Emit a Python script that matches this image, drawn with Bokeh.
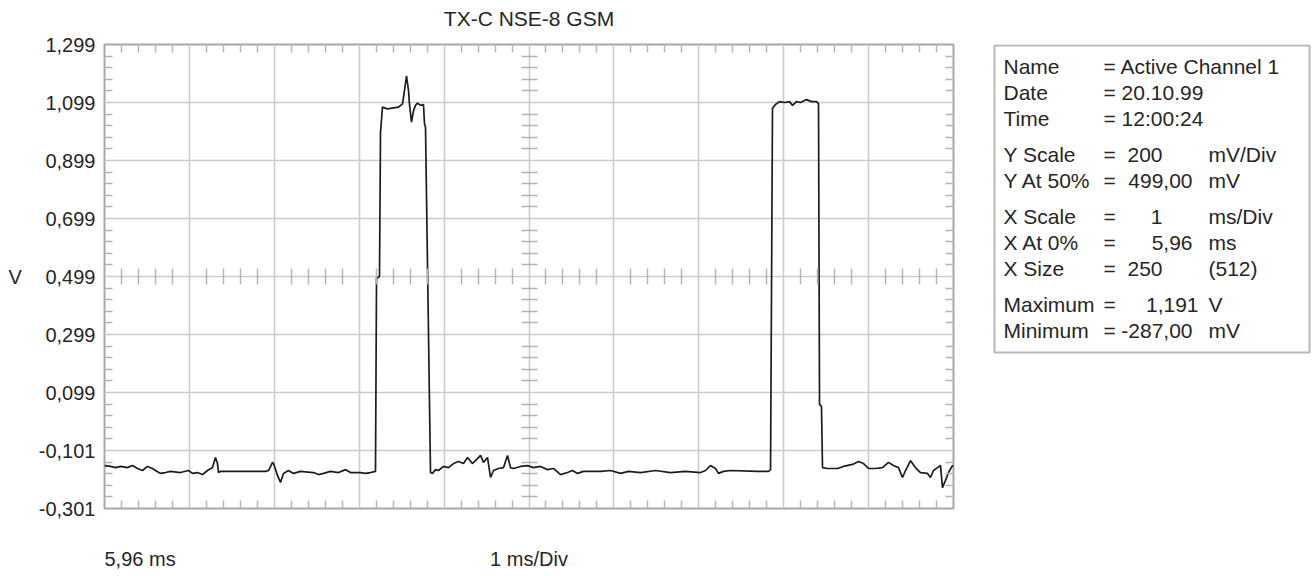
from bokeh.plotting import figure
from bokeh.models import (Range1d, LinearAxis, FixedTicker, Grid,
                          CustomJSTickFormatter, ColumnDataSource)
from bokeh.layouts import row, column
from bokeh.core.properties import value
from bokeh.embed import file_html
from bokeh.resources import INLINE

# ---------------- data ----------------
title_text = "TX-C NSE-8 GSM"
y_ticks = [-0.301, -0.101, 0.099, 0.299, 0.499, 0.699, 0.899, 1.099, 1.299]
y_tick_labels = ["-0,301", "-0,101", "0,099", "0,299", "0,499",
                 "0,699", "0,899", "1,099", "1,299"]
x_start_ms = 5.96
x_div_ms = 1.0
n_x_div = 10
x_start_label = "5,96 ms"
x_scale_label = "1 ms/Div"
y_unit_label = "V"

time_ms = [
    5.960, 6.031, 6.090, 6.148, 6.231, 6.290, 6.349, 6.408, 6.466, 6.525,
    6.561, 6.620, 6.678, 6.737, 6.855, 6.949, 6.997, 7.055, 7.114, 7.173,
    7.232, 7.267, 7.291, 7.303, 7.326, 7.856, 7.892, 7.939, 7.951, 7.998,
    8.033, 8.068, 8.127, 8.186, 8.269, 8.422, 8.481, 8.540, 8.622, 8.716,
    8.799, 8.858, 8.975, 9.034, 9.093, 9.152,
    9.164, 9.199, 9.211, 9.234, 9.293, 9.423, 9.470, 9.482, 9.517, 9.541,
    9.552, 9.576, 9.600, 9.623, 9.647, 9.682, 9.717, 9.729, 9.741, 9.800,
    9.823, 9.859, 9.894, 9.953, 10.012, 10.071, 10.130, 10.188, 10.236, 10.294,
    10.353, 10.389, 10.424, 10.471, 10.507, 10.542, 10.601, 10.660, 10.707, 10.742,
    10.777, 10.860, 10.942, 11.013, 11.095, 11.178, 11.249, 11.331, 11.413, 11.472,
    11.531, 11.602, 11.802, 11.920, 12.038, 12.132, 12.273, 12.450, 12.627, 12.803,
    12.980, 13.039, 13.098, 13.157, 13.192, 13.251, 13.333, 13.651, 13.781, 13.805,
    13.828, 13.863, 13.911, 13.969, 14.028, 14.064, 14.111, 14.158, 14.229, 14.287,
    14.346, 14.370, 14.382, 14.405, 14.417,
    14.476, 14.594, 14.664, 14.770, 14.841, 14.900, 14.959, 15.041, 15.124, 15.194,
    15.253, 15.312, 15.359, 15.395, 15.454, 15.512, 15.571, 15.654, 15.689, 15.724,
    15.771, 15.807, 15.830, 15.866, 15.901, 15.948, 15.960,
]
volts = [
    -0.153, -0.156, -0.160, -0.156, -0.160, -0.153, -0.163, -0.170, -0.156, -0.163,
    -0.170, -0.180, -0.177, -0.173, -0.177, -0.170, -0.180, -0.177, -0.184, -0.170,
    -0.160, -0.125, -0.146, -0.177, -0.173, -0.173, -0.170, -0.142, -0.146, -0.187,
    -0.211, -0.180, -0.170, -0.180, -0.173, -0.177, -0.184, -0.180, -0.173, -0.177,
    -0.167, -0.177, -0.177, -0.180, -0.177, -0.173,
    0.492, 0.499, 0.996, 1.083, 1.077, 1.083, 1.094, 1.117, 1.191, 1.140,
    1.094, 1.031, 1.071, 1.089, 1.097, 1.089, 1.092, 1.026, 1.014, -0.177,
    -0.180, -0.167, -0.170, -0.156, -0.160, -0.146, -0.139, -0.146, -0.125, -0.146,
    -0.129, -0.118, -0.142, -0.125, -0.194, -0.170, -0.163, -0.160, -0.118, -0.160,
    -0.163, -0.156, -0.153, -0.160, -0.156, -0.167, -0.163, -0.184, -0.177, -0.170,
    -0.180, -0.173, -0.173, -0.170, -0.180, -0.173, -0.177, -0.170, -0.177, -0.173,
    -0.177, -0.170, -0.153, -0.163, -0.180, -0.173, -0.170, -0.173, -0.173, -0.167,
    1.078, 1.092, 1.102, 1.099, 1.102, 1.089, 1.102, 1.099, 1.109, 1.102,
    1.102, 1.095, 0.058, 0.051, -0.160,
    -0.163, -0.163, -0.156, -0.149, -0.139, -0.146, -0.163, -0.163, -0.160, -0.142,
    -0.153, -0.160, -0.194, -0.170, -0.136, -0.160, -0.177, -0.180, -0.194, -0.170,
    -0.160, -0.153, -0.229, -0.204, -0.177, -0.153, -0.156,
]

info_labels = ["Name", "Date", "Time", "Y Scale", "Y At 50%", "X Scale",
               "X At 0%", "X Size", "Maximum", "Minimum"]
info_values = ["= Active Channel 1", "= 20.10.99", "= 12:00:24", "200", "499,00",
               "1", "5,96", "250", "1,191", "-287,00"]
info_units = ["", "", "", "mV/Div", "mV", "ms/Div", "ms", "(512)", "V", "mV"]

# ---------------- styles / layout ----------------
FONT_NAME = "Liberation Sans"
FONT = value(FONT_NAME)
TXT = "#262626"
GRID = "#cccccc"
TICK = "#b4b4b4"

LEFT_W = 970          # width of the chart column
TOP_H = 30            # title strip
MAIN_H = 502          # chart
BOT_H = 44            # bottom caption strip
FRAME_L, FRAME_R = 104, 17
FRAME_T, FRAME_B = 14, 24

x_end_ms = x_start_ms + n_x_div * x_div_ms
x_major = [x_start_ms + i * x_div_ms for i in range(n_x_div + 1)]
x_minor = [x_start_ms + (i + k / 5.0) * x_div_ms for i in range(n_x_div) for k in range(1, 5)]
y_div = y_ticks[1] - y_ticks[0]
y_minor = [y_ticks[i] + k / 5.0 * y_div for i in range(len(y_ticks) - 1) for k in range(1, 5)]
x_mid = x_start_ms + n_x_div / 2 * x_div_ms
y_mid = y_ticks[len(y_ticks) // 2]

frame_w = LEFT_W - FRAME_L - FRAME_R
frame_h = MAIN_H - FRAME_T - FRAME_B
px_per_ms = frame_w / (n_x_div * x_div_ms)
px_per_v = frame_h / (y_ticks[-1] - y_ticks[0])

xr = Range1d(x_start_ms, x_end_ms)

p = figure(width=LEFT_W, height=MAIN_H,
           x_range=xr, y_range=Range1d(y_ticks[0], y_ticks[-1]),
           x_axis_type=None, y_axis_type=None,
           output_backend="svg", toolbar_location=None,
           min_border_left=FRAME_L, min_border_right=FRAME_R,
           min_border_top=FRAME_T, min_border_bottom=FRAME_B)
p.background_fill_color = "white"
p.border_fill_color = "white"
p.outline_line_color = "#a8a8a8"
p.outline_line_width = 2

p.add_layout(Grid(dimension=0, ticker=FixedTicker(ticks=x_major),
                  grid_line_color=GRID, grid_line_width=1.6))
p.add_layout(Grid(dimension=1, ticker=FixedTicker(ticks=y_ticks),
                  grid_line_color=GRID, grid_line_width=1.6))

def tick_axis(minor, tin, **kw):
    return LinearAxis(ticker=FixedTicker(ticks=[], minor_ticks=minor),
                      axis_line_color=None, major_tick_line_color=None,
                      minor_tick_in=tin, minor_tick_out=0,
                      minor_tick_line_color=TICK, minor_tick_line_width=1.5, **kw)

yax = LinearAxis(ticker=FixedTicker(ticks=y_ticks, minor_ticks=y_minor),
                 formatter=CustomJSTickFormatter(args=dict(labels=y_tick_labels),
                                                 code="return labels[index];"),
                 axis_line_color=None, major_tick_in=0, major_tick_out=0,
                 minor_tick_in=8, minor_tick_out=0,
                 minor_tick_line_color=TICK, minor_tick_line_width=1.5,
                 major_label_standoff=9,
                 major_label_text_font=FONT_NAME, major_label_text_font_size="20px",
                 major_label_text_color=TXT,
                 axis_label=y_unit_label, axis_label_orientation="horizontal",
                 axis_label_standoff=14, axis_label_text_font=FONT_NAME,
                 axis_label_text_font_size="20px", axis_label_text_font_style="normal",
                 axis_label_text_color=TXT)
p.add_layout(yax, "left")
p.add_layout(tick_axis(y_minor, 8), "right")
p.add_layout(tick_axis(x_minor, 8), "below")
p.add_layout(tick_axis(x_minor, 8), "above")
# centre graticule ticks (crossing the centre lines, 8 px each side)
p.add_layout(tick_axis(x_minor, 16, fixed_location=y_mid - 8 / px_per_v), "below")
p.add_layout(tick_axis(y_minor, 16, fixed_location=x_mid - 8 / px_per_ms), "left")

p.line(time_ms, volts, line_color="#1c1c1c", line_width=1.7)

def strip(height):
    f = figure(width=LEFT_W, height=height, x_range=xr, y_range=Range1d(0, 1),
               x_axis_type=None, y_axis_type=None, output_backend="svg",
               toolbar_location=None, min_border_left=FRAME_L, min_border_right=FRAME_R,
               min_border_top=0, min_border_bottom=0)
    f.outline_line_color = None
    f.background_fill_color = "white"
    f.border_fill_color = "white"
    return f

top = strip(TOP_H)
top.text(x=[x_mid], y=[(TOP_H - 18) / TOP_H], text=[title_text], text_align="center",
         text_baseline="middle", text_font=FONT, text_font_size="21px", text_color=TXT)

bot = strip(BOT_H)
bot.text(x=[x_start_ms, x_mid], y=[18 / BOT_H] * 2, text=[x_start_label, x_scale_label],
         text_align=["left", "center"], text_baseline="middle", text_font=FONT,
         text_font_size="20px", text_color=TXT)

# ---------------- info panel (page-pixel coordinates) ----------------
Q_W = 1316 - LEFT_W
q = figure(width=Q_W, height=MAIN_H,
           x_range=Range1d(LEFT_W, 1316),
           y_range=Range1d(TOP_H + MAIN_H - FRAME_B, TOP_H + FRAME_T),
           x_axis_type=None, y_axis_type=None, output_backend="svg",
           toolbar_location=None, min_border_left=0, min_border_right=0,
           min_border_top=FRAME_T, min_border_bottom=FRAME_B)
q.outline_line_color = None
q.background_fill_color = "white"
q.border_fill_color = "white"
q.quad(left=994, right=1309, top=45, bottom=352, fill_color="white",
       line_color="#b8b8b8", line_width=2)

groups = [0, 0, 0, 1, 1, 2, 2, 2, 3, 3]
row_y = [66 + 26 * i + 10 * g for i, g in enumerate(groups)]
val_right = [0, 0, 0, 1162, 1192, 1162, 1192, 1162, 1198, 1192]
txt_kw = dict(text_font=FONT, text_font_size="21px", text_color=TXT, text_baseline="middle")
lab_src = ColumnDataSource(dict(x=[1003] * len(info_labels), y=row_y, t=info_labels))
q.text(x="x", y="y", text="t", source=lab_src, text_align="left", **txt_kw)
head_idx = [i for i, u in enumerate(info_units) if u == ""]
rest_idx = [i for i, u in enumerate(info_units) if u != ""]
q.text(x=[1103] * len(head_idx), y=[row_y[i] for i in head_idx],
       text=[info_values[i] for i in head_idx], text_align="left", **txt_kw)
q.text(x=[1103] * len(rest_idx), y=[row_y[i] for i in rest_idx],
       text=["="] * len(rest_idx), text_align="left", **txt_kw)
q.text(x=[val_right[i] for i in rest_idx], y=[row_y[i] for i in rest_idx],
       text=[info_values[i] for i in rest_idx], text_align="right", **txt_kw)
q.text(x=[1208] * len(rest_idx), y=[row_y[i] for i in rest_idx],
       text=[info_units[i] for i in rest_idx], text_align="left", **txt_kw)

layout = column(top, row(p, q), bot)
open("out.html", "w").write(file_html(layout, INLINE))
